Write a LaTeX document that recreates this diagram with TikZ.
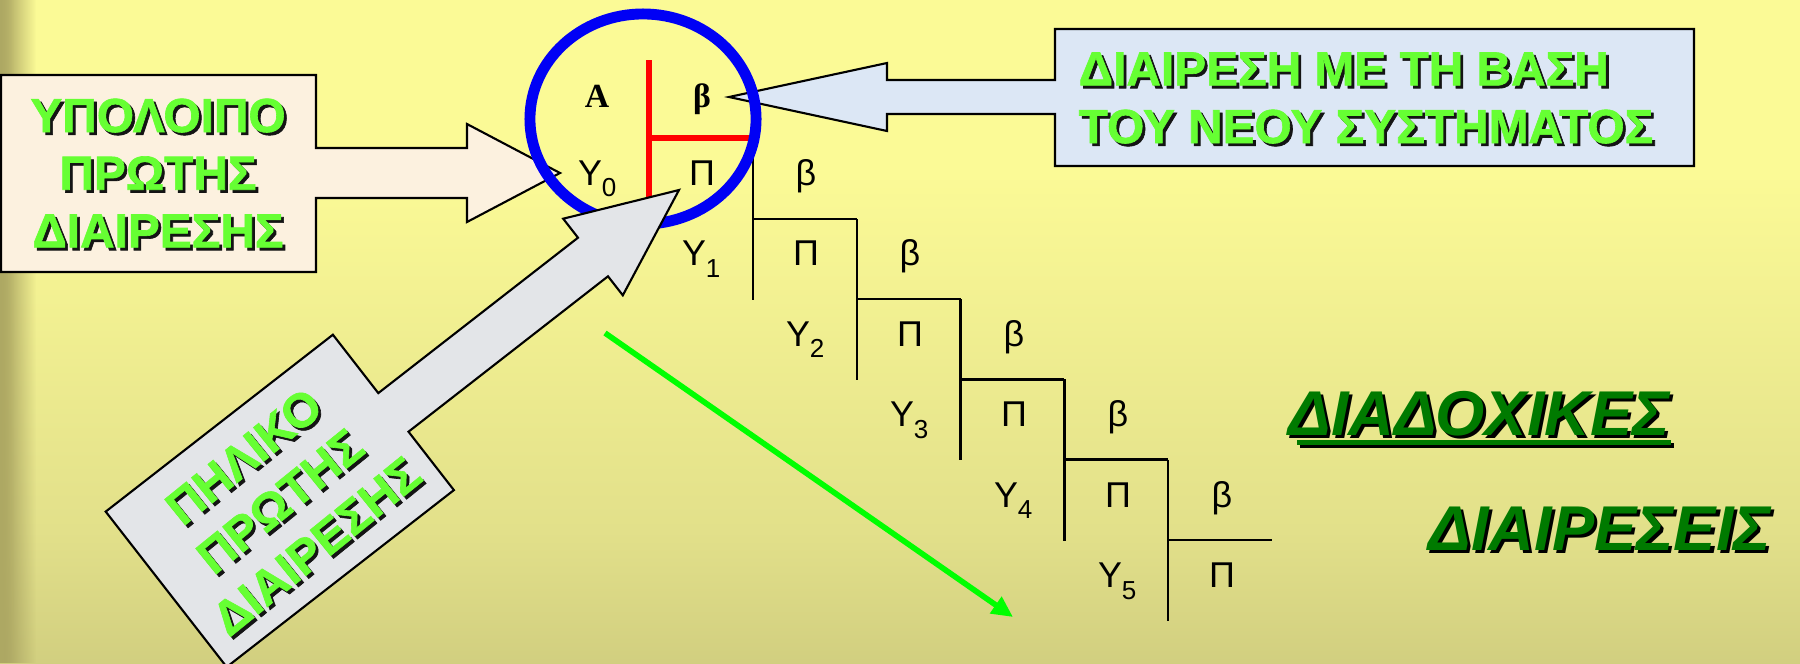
\documentclass[tikz,border=0pt]{standalone}
\usepackage{fontspec}
\setmainfont{Liberation Sans}
\newfontfamily\serifface{Liberation Serif}
\newfontfamily\heavyface{Liberation Sans}[BoldFeatures={FakeBold=1.3}]
\usetikzlibrary{fadings,arrows.meta}
\definecolor{bgtop}{HTML}{FBFA96}
\definecolor{bgmid}{HTML}{E2E08A}
\definecolor{bgbot}{HTML}{A8A465}
\definecolor{stripecol}{HTML}{A39D5C}
\definecolor{brightgreen}{HTML}{66FF33}
\definecolor{darkgreen}{HTML}{007A00}
\definecolor{shadowcol}{HTML}{141414}
\definecolor{creamfill}{HTML}{FCF1DF}
\definecolor{bluefill}{HTML}{DCE7F5}
\definecolor{greyfill}{HTML}{E3E5E8}
\definecolor{ringblue}{HTML}{0000F5}
\definecolor{linered}{HTML}{FF0000}
\definecolor{arrowgreen}{HTML}{00FF00}
\pgfdeclareverticalshading{bgshade}{100bp}{color(0bp)=(bgbot); color(35bp)=(bgmid); color(62bp)=(bgtop); color(100bp)=(bgtop)}
\newcommand\subnum[1]{\rlap{\raisebox{-3.4pt}{\fontsize{7.4pt}{8pt}\selectfont #1}}}
\tikzset{
  callout/.style={draw=black, line width=0.6pt, line join=miter},
  gfront/.style={text=brightgreen, font=\heavyface\bfseries\fontsize{13.6pt}{16.4pt}\selectfont, inner sep=0pt},
  gshadow/.style={gfront, text=shadowcol, xshift=0.8pt, yshift=-0.8pt},
  dfront/.style={text=darkgreen, font=\heavyface\bfseries\itshape\fontsize{18pt}{20pt}\selectfont, inner sep=0pt, anchor=base west},
  dshadow/.style={dfront, text=black, xshift=0.9pt, yshift=-0.9pt},
  stairline/.style={draw=black, line width=0.7pt},
  redline/.style={draw=linered, line width=1.7pt},
  ring/.style={draw=ringblue, line width=3.1pt},
  celltext/.style={font=\fontsize{10.2pt}{12pt}\selectfont, anchor=base, inner sep=0pt},
  toptext/.style={font=\serifface\bfseries\fontsize{9.6pt}{11pt}\selectfont, anchor=base, inner sep=0pt},
  greenarrow/.style={draw=arrowgreen, line width=1.6pt, -{Triangle[length=6pt,width=5.5pt]}}
}
\begin{document}
\begin{tikzpicture}[x=0.01cm,y=-0.01cm]
\useasboundingbox (0,0) rectangle (1800,663);
% background
\shade[shading=bgshade] (0,0) rectangle (1800,663);
\fill[stripecol, path fading=east] (0,0) rectangle (36,663);
\fill[stripecol!80!bgtop, path fading=east, opacity=0.6] (0,0) rectangle (14,663);

% green diagonal arrow
\coordinate (g1) at (605,333);
\coordinate (g2) at (1013,617);
\draw[greenarrow] (g1) -- (g2);

% staircase of successive divisions
\foreach \k in {1,...,5}{
  \pgfmathsetmacro\xa{753+103.8*(\k-1)}
  \pgfmathsetmacro\xb{753+103.8*\k}
  \pgfmathsetmacro\yh{219+80.2*(\k-1)}
  \pgfmathsetmacro\ytop{\k==1 ? 139 : 219+80.2*(\k-2)}
  \pgfmathsetmacro\ybot{\yh+81}
  \draw[stairline] (\xa,\ytop) -- (\xa,\ybot);
  \draw[stairline] (\xa,\yh) -- (\xb,\yh);
}
\foreach \k in {0,...,5}{
  \node[celltext] (Y\k) at (590+104*\k,185+80.5*\k) {Υ\subnum{\k}};
  \node[celltext] (P\k) at (702+104*\k,185+80.5*\k) {Π};
}
\foreach \k in {0,...,4}{
  \node[celltext] (b\k) at (806+104*\k,185+80.5*\k) {β};
}

% red division sign
\coordinate (rtop) at (649,60);
\coordinate (rmid) at (649,138);
\coordinate (rbot) at (649,200);
\coordinate (rright) at (752,138);
\draw[redline] (rtop) -- (rbot);
\draw[redline] (rmid) -- (rright);
\node[toptext] (A) at (597,107) {A};
\node[toptext] (beta) at (702,107) {β};

% left callout
\draw[callout, fill=creamfill] (1,75) -- (316,75) -- (316,148) -- (467,148) -- (467,124) -- (560,173)
  -- (467,222) -- (467,198) -- (316,198) -- (316,272) -- (1,272) -- cycle;
% right callout
\draw[callout, fill=bluefill] (1055,29) -- (1694,29) -- (1694,166) -- (1055,166) -- (1055,114)
  -- (887,114) -- (887,131) -- (729,97) -- (887,63) -- (887,80) -- (1055,80) -- cycle;

% blue ring
\draw[ring] (643,119) ellipse [x radius=1.13cm, y radius=1.05cm];

% grey rotated callout
\draw[callout, fill=greyfill] (679,190) -- (563.2,218.7) -- (578,237.7) -- (378.3,393.1) -- (332.9,334.7)
  -- (105.7,511.6) -- (226.7,667) -- (453.9,490.1) -- (408.5,431.7) -- (608,276.3) -- (622.8,295.3) -- cycle;

% callout texts
\node[gshadow, align=center] at (158,173) {ΥΠΟΛΟΙΠΟ\\ΠΡΩΤΗΣ\\ΔΙΑΙΡΕΣΗΣ};
\node[gfront, align=center] (remtext) at (158,173) {ΥΠΟΛΟΙΠΟ\\ΠΡΩΤΗΣ\\ΔΙΑΙΡΕΣΗΣ};
\node[gshadow, align=left, anchor=west] at (1078,98) {ΔΙΑΙΡΕΣΗ ΜΕ ΤΗ ΒΑΣΗ\\ΤΟΥ ΝΕΟΥ ΣΥΣΤΗΜΑΤΟΣ};
\node[gfront, align=left, anchor=west] (basetext) at (1078,98) {ΔΙΑΙΡΕΣΗ ΜΕ ΤΗ ΒΑΣΗ\\ΤΟΥ ΝΕΟΥ ΣΥΣΤΗΜΑΤΟΣ};
\node[gshadow, align=center, rotate=39] at (280,501) {ΠΗΛΙΚΟ\\ΠΡΩΤΗΣ\\ΔΙΑΙΡΕΣΗΣ};
\node[gfront, align=center, rotate=39] (quottext) at (280,501) {ΠΗΛΙΚΟ\\ΠΡΩΤΗΣ\\ΔΙΑΙΡΕΣΗΣ};

% successive divisions title
\node[dshadow] at (1288,435) {ΔΙΑΔΟΧΙΚΕΣ};
\node[dfront] (succ) at (1288,435) {ΔΙΑΔΟΧΙΚΕΣ};
\draw[black, line width=1.4pt] ([xshift=3.5pt,yshift=-2.9pt]succ.base west) -- ([xshift=0.9pt,yshift=-2.9pt]succ.base east);
\draw[darkgreen, line width=1.4pt] ([xshift=2.6pt,yshift=-2pt]succ.base west) -- ([yshift=-2pt]succ.base east);
\node[dshadow] at (1428,550) {ΔΙΑΙΡΕΣΕΙΣ};
\node[dfront] (divs) at (1428,550) {ΔΙΑΙΡΕΣΕΙΣ};
\end{tikzpicture}
\end{document}
